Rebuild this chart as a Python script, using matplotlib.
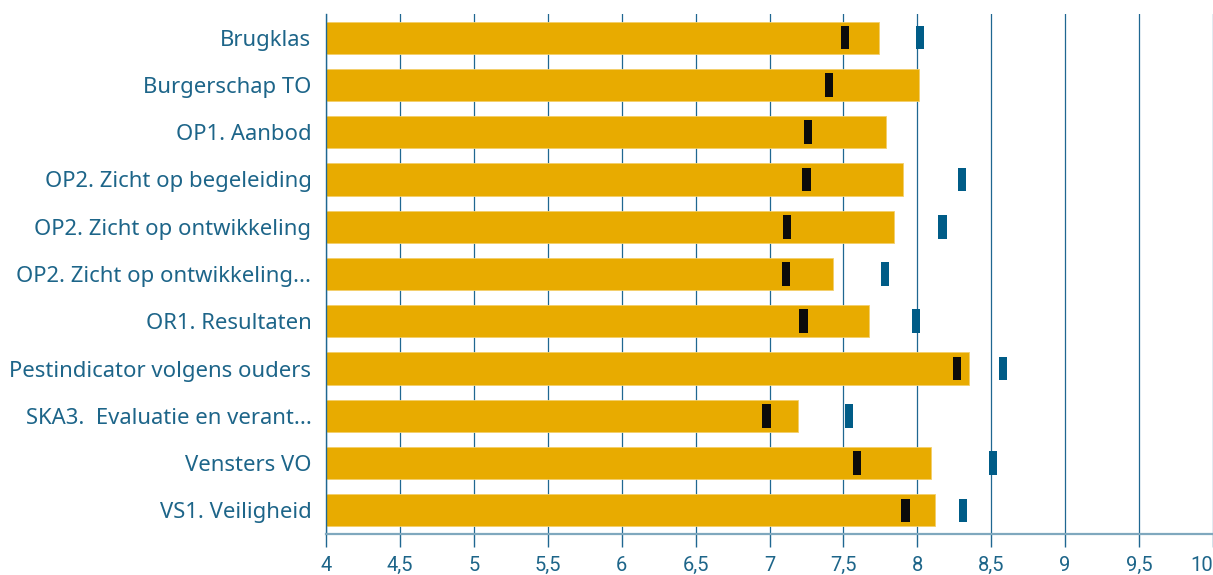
import matplotlib
matplotlib.use("Agg")
import matplotlib.pyplot as plt

categories = [
    "Brugklas",
    "Burgerschap TO",
    "OP1. Aanbod",
    "OP2. Zicht op begeleiding",
    "OP2. Zicht op ontwikkeling",
    "OP2. Zicht op ontwikkeling...",
    "OR1. Resultaten",
    "Pestindicator volgens ouders",
    "SKA3.  Evaluatie en verant...",
    "Vensters VO",
    "VS1. Veiligheid",
]
scores = [7.74, 8.01, 7.79, 7.90, 7.84, 7.43, 7.67, 8.35, 7.19, 8.09, 8.12]
black_marks = [7.51, 7.40, 7.26, 7.25, 7.12, 7.11, 7.23, 8.27, 6.98, 7.59, 7.92]
blue_marks = [8.02, None, None, 8.30, 8.17, 7.78, 7.99, 8.58, 7.54, 8.51, 8.31]
x_ticks = [4, 4.5, 5, 5.5, 6, 6.5, 7, 7.5, 8, 8.5, 9, 9.5, 10]
x_tick_labels = ["4", "4,5", "5", "5,5", "6", "6,5", "7", "7,5", "8", "8,5",
                 "9", "9,5", "10"]

GOLD = "#E8AB00"
DARK = "#0B0B0B"
BLUE = "#005C87"
TEXT = "#1D6589"
GRID = "#1F6791"
AXIS = "#7FA8BE"

plt.rcParams['font.family'] = ['Noto Sans', 'DejaVu Sans']

fig = plt.figure(figsize=(12.13, 5.75), dpi=100)
ax = fig.add_axes([326/1213, 41/575, 887/1213, 520/575])

y = list(range(len(categories)))
base = 4.0
ax.barh(y, [s - base for s in scores], left=base, height=0.68, color=GOLD,
        edgecolor="#F3CF6A", linewidth=0.6, zorder=2)

mw = 0.055
ax.barh(y, [mw] * len(y), left=[v - mw / 2 for v in black_marks], height=0.5,
        color=DARK, zorder=3)
by = [i for i, v in zip(y, blue_marks) if v is not None]
bv = [v for v in blue_marks if v is not None]
ax.barh(by, [mw] * len(by), left=[v - mw / 2 for v in bv], height=0.5,
        color=BLUE, zorder=3)

ax.set_xlim(4, 10)
ax.set_ylim(10.5, -0.5)
ax.set_xticks(x_ticks, x_tick_labels)
ax.set_yticks(y, categories)

ax.grid(axis="x", color=GRID, linewidth=0.9, zorder=0)
ax.set_axisbelow(True)
for s in ["top", "right"]:
    ax.spines[s].set_visible(False)
ax.spines["left"].set_color(GRID)
ax.spines["left"].set_linewidth(1.0)
ax.spines["bottom"].set_color(AXIS)
ax.spines["bottom"].set_linewidth(1.6)

ax.tick_params(axis="y", length=0, pad=10.5, labelsize=15.9, labelcolor=TEXT)
ax.tick_params(axis="x", length=9, width=1, color=GRID, pad=7,
               labelsize=14.5, labelcolor=TEXT)
for lbl in ax.get_xticklabels():
    lbl.set_family(['Roboto', 'DejaVu Sans'])
ax.get_xticklabels()[-1].set_horizontalalignment('right')

fig.savefig("out.png", dpi=100)
